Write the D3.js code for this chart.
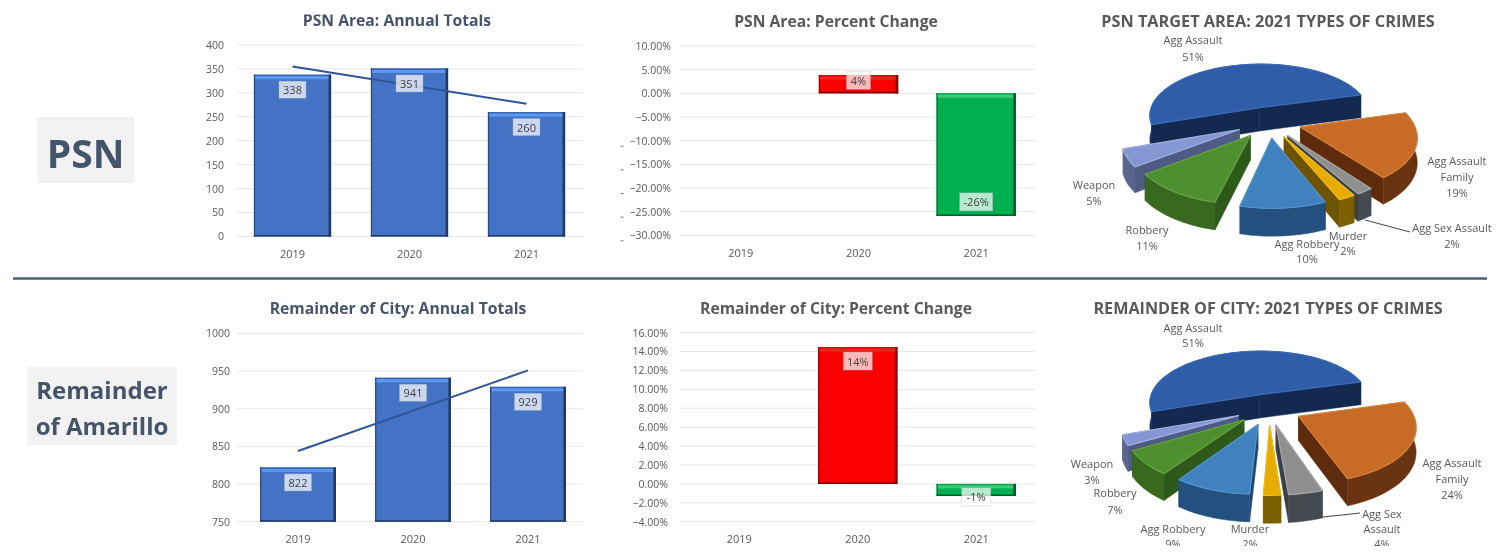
<!DOCTYPE html>
<html><head><meta charset="utf-8">
<script src="https://cdn.jsdelivr.net/npm/d3@7/dist/d3.min.js"></script>
<style>html,body{margin:0;background:#fff}svg{display:block;filter:blur(.6px)}text{font-family:"Open Sans","Noto Sans",sans-serif}</style>
</head><body><svg id="c" width="1512" height="560"></svg>
<script>
const years = ["2019","2020","2021"];
const psnTotals = [338,351,260];
const psnTrend = [355.3,277.3];
const cityTotals = [822,941,929];
const cityTrend = [843.8,950.8];
const psnChange = [null,3.85,-25.9];
const psnChangeLabels = ["","4%","-26%"];
const cityChange = [null,14.48,-1.28];
const cityChangeLabels = ["","14%","-1%"];
const psnTotalTicks = [0,50,100,150,200,250,300,350,400];
const cityTotalTicks = [750,800,850,900,950,1000];
const psnChangeTicks = [10,5,0,-5,-10,-15,-20,-25,-30];
const cityChangeTicks = [16,14,12,10,8,6,4,2,0,-2,-4];
const crimeTypes = ["Agg Assault","Agg Assault Family","Agg Sex Assault","Murder","Agg Robbery","Robbery","Weapon"];
const psnCrimeShares = [51,19,2,2,10,11,5];
const cityCrimeShares = [51,24,4,2,9,7,3];

const svg = d3.select("#c");
const TITLE="#44546a", GREY="#595959";
function title(t,x,y,c,fs){svg.append("text").attr("x",x).attr("y",y).attr("text-anchor","middle").attr("dominant-baseline","central").attr("font-weight",700).attr("font-size",fs||15.7).attr("fill",c).text(t);}

function frame(cfg){
  const x=d3.scaleBand().domain(years).range(cfg.xr).paddingInner(cfg.pad).paddingOuter(cfg.pad/2);
  const y=d3.scaleLinear().domain(cfg.dom).range(cfg.yr);
  const g=svg.append("g");
  g.selectAll(".g").data(cfg.ticks).join("line").attr("x1",cfg.gx[0]).attr("x2",cfg.gx[1])
    .attr("y1",d=>y(d)).attr("y2",d=>y(d)).attr("stroke","#e6e6e6").attr("stroke-width",1);
  const ax=d3.axisLeft(y).tickValues(cfg.ticks).tickSize(0).tickFormat(cfg.fmt);
  const a=g.append("g").attr("transform",`translate(${cfg.lx+3},0)`).call(ax);
  a.select(".domain").remove();
  a.selectAll("text").attr("font-size",10.5).attr("fill",GREY).attr("font-family",'"Open Sans"');
  const bx=d3.axisBottom(x).tickSize(0);
  const b=g.append("g").attr("transform",`translate(0,${cfg.xy})`).call(bx);
  b.select(".domain").remove();
  b.selectAll("text").attr("font-size",11).attr("fill",GREY).attr("dy",0).attr("y",0).attr("dominant-baseline","central").attr("font-family",'"Open Sans"');
  return {x,y,g};
}
function bevelBar(g,x0,w,yTop,yBot,c){
  g.append("rect").attr("x",x0).attr("width",w).attr("y",yTop).attr("height",yBot-yTop).attr("fill",c.base);
  g.append("rect").attr("x",x0).attr("width",w).attr("y",yTop).attr("height",Math.min(1.5,yBot-yTop)).attr("fill",c.edgeTop);
  if(yBot-yTop>6) g.append("rect").attr("x",x0+1.5).attr("width",w-3).attr("y",yTop+1.5).attr("height",3).attr("fill",c.hi);
  g.append("rect").attr("x",x0+w-2.5).attr("width",2.5).attr("y",yTop).attr("height",yBot-yTop).attr("fill",c.dark);
  g.append("rect").attr("x",x0).attr("width",1.2).attr("y",yTop).attr("height",yBot-yTop).attr("fill",c.dark).attr("opacity",.7);
  g.append("rect").attr("x",x0).attr("width",w).attr("y",yBot-1.5).attr("height",1.5).attr("fill",c.dark);
}
function label(g,t,cx,cy,w,h,tc){
  g.append("rect").attr("x",cx-w/2).attr("y",cy-h/2).attr("width",w).attr("height",h)
    .attr("fill","#fff").attr("fill-opacity",.72).attr("stroke","#b5b5b5").attr("stroke-opacity",.5).attr("stroke-width",.7);
  g.append("text").attr("x",cx).attr("y",cy).attr("text-anchor","middle").attr("dominant-baseline","central")
    .attr("font-size",11).attr("fill",tc||"#404040").text(t);
}
const BLUE={base:"#4472c4",edgeTop:"#3a64ae",hi:"#5a9af0",dark:"#1f3864"};
const RED={base:"#fb0000",edgeTop:"#e00000",hi:"#ff2020",dark:"#7a0000"};
const GRN={base:"#00b050",edgeTop:"#10a850",hi:"#3ecb78",dark:"#005a28"};

function totals(cfg){
  const f=frame({...cfg,fmt:d3.format("d")});
  years.forEach((yr,i)=>bevelBar(f.g,f.x(yr),f.x.bandwidth(),f.y(cfg.vals[i]),f.y(cfg.dom[0]),BLUE));
  const ends=[years[0],years[2]];
  const line=d3.line().x(d=>f.x(d[0])+f.x.bandwidth()/2).y(d=>f.y(d[1]));
  f.g.append("path").attr("d",line(ends.map((e,i)=>[e,cfg.trend[i]]))).attr("fill","none").attr("stroke","#2f5597").attr("stroke-width",2);
  years.forEach((yr,i)=>label(f.g,cfg.vals[i],f.x(yr)+f.x.bandwidth()/2,f.y(cfg.vals[i])+15,27,17));
}
function change(cfg){
  const f=frame({...cfg,fmt:d=>d3.format(".2f")(d)+"%"});
  const z=f.y(0);
  years.forEach((yr,i)=>{
    const v=cfg.vals[i]; if(v==null) return;
    bevelBar(f.g,f.x(yr),f.x.bandwidth(),Math.min(z,f.y(v)),Math.max(z,f.y(v)),v>0?RED:GRN);
  });
  years.forEach((yr,i)=>{
    const v=cfg.vals[i]; if(v==null) return;
    const d=Math.max(Math.abs(f.y(v)-z)-14,13);
    const s=cfg.labels[i];
    label(f.g,s,f.x(yr)+f.x.bandwidth()/2,z+(v>0?-d:d),s.length>3?33:s.length>2?29:24,18);
  });
  return f;
}

/* exploded perspective pie */
const START=251*Math.PI/180, RX=113, RY=54, PERS=.15, DEPTH=24, EXPL=.29;
const PALETTE=[
 {top:"#2f5da8",wall:"#13294f",rad:"#13294f",edge:"#3c6cba"},
 {top:"#c76b27",wall:"#6a3410",rad:"#5e2c0c",edge:"#d67f3c"},
 {top:"#8f8f8f",wall:"#454a50",rad:"#3c3f44",edge:"#a8a8a8"},
 {top:"#e6ac00",wall:"#7d6000",rad:"#6e5400",edge:"#f0bf20"},
 {top:"#3f82bf",wall:"#24507f",rad:"#1f466f",edge:"#5596cf"},
 {top:"#4f8f2f",wall:"#38691f",rad:"#2d5a1a",edge:"#67a546"},
 {top:"#8497d2",wall:"#586690",rad:"#4e5b85",edge:"#a0b0df"}];
const DRAW_ORDER=[0,6,1,5,2,3,4];
function pie3D(cfg){
  const arcs=d3.pie().sort(null).startAngle(START).endAngle(START+2*Math.PI)(cfg.vals);
  const proj=(X,Y,z)=>{const w=1/(1-PERS*Y);return [cfg.cx+RX*X*w,cfg.cy+RY*Y*w+z*DEPTH*Math.pow(w,.7)];};
  const line=d3.line();
  const g=svg.append("g");
  DRAW_ORDER.forEach(i=>{
    const a=arcs[i],m=(a.startAngle+a.endAngle)/2,p=PALETTE[i];
    const ox=EXPL*Math.sin(m),oy=-EXPL*Math.cos(m);
    const n=Math.max(4,Math.ceil((a.endAngle-a.startAngle)/.04));
    const angs=d3.range(n+1).map(k=>a.startAngle+(a.endAngle-a.startAngle)*k/n);
    const rim=z=>angs.map(t=>proj(ox+Math.sin(t),oy-Math.cos(t),z));
    const apex=z=>proj(ox,oy,z);
    const t=rim(0),b=rim(1);
    g.append("path").attr("d",line([apex(0),t[0],b[0],apex(1)])+"Z").attr("fill",p.rad).attr("stroke",p.rad).attr("stroke-width",.5);
    g.append("path").attr("d",line([apex(0),t[n],b[n],apex(1)])+"Z").attr("fill",p.rad).attr("stroke",p.rad).attr("stroke-width",.5);
    g.append("path").attr("d",line([...t,...b.slice().reverse()])+"Z").attr("fill",p.wall).attr("stroke",p.wall).attr("stroke-width",.5);
    g.append("path").attr("d",line([apex(0),...t])+"Z").attr("fill",p.top).attr("stroke",p.edge).attr("stroke-width",1.2).attr("stroke-linejoin","round");
  });
  cfg.leader.forEach(l=>g.append("path").attr("d",line(l)).attr("fill","none").attr("stroke","#444").attr("stroke-width",1));
  cfg.labels.forEach(l=>{
    const tx=g.append("text").attr("text-anchor","middle").attr("font-size",11).attr("fill",GREY);
    l.lines.forEach((s,k)=>tx.append("tspan").attr("x",l.x).attr("y",l.y+k*l.dy).attr("dominant-baseline","central").text(s));
  });
}

/* left boxes */
svg.append("rect").attr("x",37).attr("y",117).attr("width",97).attr("height",66).attr("fill","#f2f2f2");
svg.append("text").attr("x",85.5).attr("y",152).attr("text-anchor","middle").attr("dominant-baseline","central").attr("font-size",39).attr("font-weight",700).attr("fill",TITLE).text("PSN");
svg.append("rect").attr("x",27).attr("y",367).attr("width",150).attr("height",78).attr("fill","#f2f2f2");
svg.append("text").attr("x",102).attr("y",389).attr("text-anchor","middle").attr("dominant-baseline","central").attr("font-size",24).attr("font-weight",700).attr("fill",TITLE).text("Remainder");
svg.append("text").attr("x",102).attr("y",425).attr("text-anchor","middle").attr("dominant-baseline","central").attr("font-size",24).attr("font-weight",700).attr("fill",TITLE).text("of Amarillo");
svg.append("line").attr("x1",13).attr("x2",1487).attr("y1",278.5).attr("y2",278.5).attr("stroke","#4d5f7c").attr("stroke-width",2.5);

title("PSN Area: Annual Totals",397,20,TITLE);
title("PSN Area: Percent Change",836,21,GREY);
title("PSN TARGET AREA: 2021 TYPES OF CRIMES",1268,21,GREY,16.3);
title("Remainder of City: Annual Totals",398,308,TITLE);
title("Remainder of City: Percent Change",836,308,GREY);
title("REMAINDER OF CITY: 2021 TYPES OF CRIMES",1268,308,GREY,16.2);

totals({xr:[234,585],pad:.34,dom:[0,400],yr:[236.5,45],gx:[237,583],ticks:psnTotalTicks,lx:224,xy:253,vals:psnTotals,trend:psnTrend});
totals({xr:[240.5,585.5],pad:.34,dom:[750,1000],yr:[521.7,333.3],gx:[237,583],ticks:cityTotalTicks,lx:230,xy:538,vals:cityTotals,trend:cityTrend});
const pc=change({xr:[682,1035],pad:.325,dom:[-30,10],yr:[235.3,46],gx:[680,1035],ticks:psnChangeTicks,lx:671,xy:252,vals:psnChange,labels:psnChangeLabels});
change({xr:[680,1035.5],pad:.33,dom:[-4,16],yr:[521.7,332.7],gx:[680,1035],ticks:cityChangeTicks,lx:668,xy:538,vals:cityChange,labels:cityChangeLabels});
/* stray dashes left of the lower tick labels */
svg.selectAll(".stray").data(psnChangeTicks.filter(d=>d<=-10)).join("line").attr("x1",620.5).attr("x2",623.5)
  .attr("y1",d=>pc.y(d)+5.5).attr("y2",d=>pc.y(d)+5.5).attr("stroke","#777").attr("stroke-width",1);

pie3D({cx:1269,cy:122,vals:psnCrimeShares,
  leader:[[[1365,220],[1410,232]]],
  labels:[
   {x:1193,y:39,dy:17,lines:[crimeTypes[0],"51%"]},
   {x:1457,y:160,dy:16,lines:["Agg Assault","Family","19%"]},
   {x:1452,y:227,dy:16,lines:[crimeTypes[2],"2%"]},
   {x:1348,y:235,dy:15,lines:[crimeTypes[3],"2%"]},
   {x:1307,y:243,dy:15,lines:[crimeTypes[4],"10%"]},
   {x:1147,y:229,dy:16,lines:[crimeTypes[5],"11%"]},
   {x:1094,y:184,dy:16,lines:[crimeTypes[6],"5%"]}]});
pie3D({cx:1269,cy:409,vals:cityCrimeShares,
  leader:[[[1323,517],[1360,513]]],
  labels:[
   {x:1193,y:327,dy:15,lines:[crimeTypes[0],"51%"]},
   {x:1452,y:462,dy:16,lines:["Agg Assault","Family","24%"]},
   {x:1382,y:513,dy:15,lines:["Agg Sex","Assault","4%"]},
   {x:1250,y:528,dy:15,lines:[crimeTypes[3],"2%"]},
   {x:1173,y:528,dy:15,lines:[crimeTypes[4],"9%"]},
   {x:1115,y:492,dy:17,lines:[crimeTypes[5],"7%"]},
   {x:1092,y:463,dy:16,lines:[crimeTypes[6],"3%"]}]});
/* the source image is cropped at the edges */
svg.append("rect").attr("x",0).attr("y",546).attr("width",1512).attr("height",14).attr("fill","#fff");
svg.append("rect").attr("x",280).attr("y",0).attr("width",230).attr("height",14.5).attr("fill","#fff");
</script></body></html>
